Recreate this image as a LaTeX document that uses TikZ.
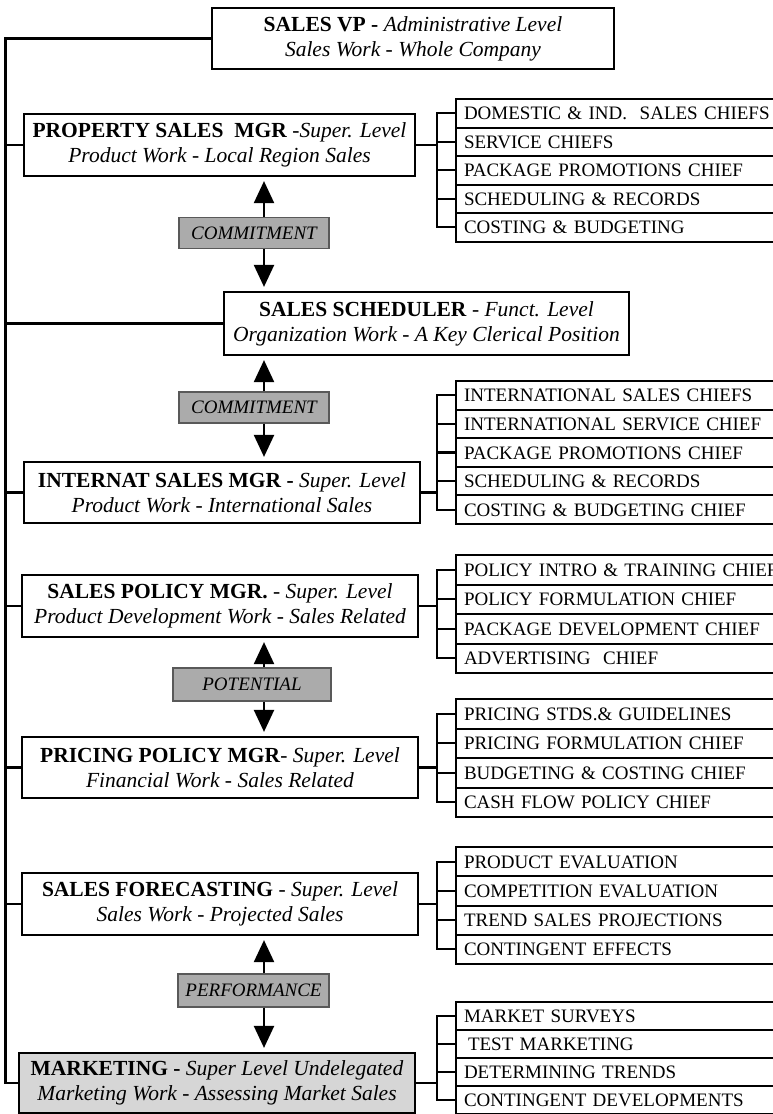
\documentclass[tikz,border=0pt]{standalone}
\usepackage{fontspec}
\setmainfont{Liberation Serif}
\usetikzlibrary{arrows.meta}
\begin{document}
\begin{tikzpicture}[x=1pt,y=-1pt,
  mgr/.style={draw=black, line width=2.2pt, fill=white, align=center, inner sep=0pt,
    font=\fontsize{21.5}{25}\selectfont},
  child/.style={draw=black, line width=2pt, anchor=north west, minimum width=338pt,
    text width=322pt, inner xsep=8pt, inner ysep=0pt, align=left,
    text height=13pt, text depth=0pt, font=\fontsize{19}{22}\selectfont},
  tag/.style={draw=black!65, line width=1.4pt, fill=black!33, inner sep=0pt,
    font=\fontsize{19}{22}\selectfont\itshape},
  wire/.style={line width=2.2pt},
  link/.style={line width=2.2pt, shorten >=4pt, -{Triangle[width=20pt,length=22pt]}},
]
\useasboundingbox (0,0) rectangle (773,1114);
\clip (0,0) rectangle (773,1114);
\fill[white] (0,0) rectangle (773,1114);

% helper coordinates: spine, bracket column, arrow column
\coordinate (sp) at (5.5,0);
\coordinate (bx) at (437,0);
\coordinate (ax) at (264,0);

% ---- managers ----
\node[mgr, minimum width=402pt, minimum height=61pt] (vp) at (413,38.5)
  {\textbf{SALES VP -} \textit{Administrative Level}\\ \textit{Sales Work - Whole Company}};
\node[mgr, minimum width=391pt, minimum height=62pt] (prop) at (219.5,145)
  {\textbf{PROPERTY SALES\ \ MGR} \textit{-Super. Level}\\ \textit{Product Work - Local Region Sales}};
\node[mgr, minimum width=405pt, minimum height=63pt] (sched) at (426.5,323.5)
  {\textbf{SALES SCHEDULER} \textit{- Funct. Level}\\ \textit{Organization Work - A Key Clerical Position}};
\node[mgr, minimum width=396pt, minimum height=61pt] (intl) at (222,492.5)
  {\textbf{INTERNAT SALES MGR -} \textit{Super. Level}\\ \textit{Product Work - International Sales}};
\node[mgr, minimum width=396pt, minimum height=62pt] (policy) at (220,606)
  {\textbf{SALES POLICY MGR.} \textit{- Super. Level}\\ \textit{Product Development Work - Sales Related}};
\node[mgr, minimum width=396pt, minimum height=61pt] (pricing) at (220,767.5)
  {\textbf{PRICING POLICY MGR}\textit{- Super. Level}\\ \textit{Financial Work - Sales Related}};
\node[mgr, minimum width=396pt, minimum height=62pt] (fore) at (220,904)
  {\textbf{SALES FORECASTING} \textit{- Super. Level}\\ \textit{Sales Work - Projected Sales}};
\node[mgr, fill=black!16, minimum width=396pt, minimum height=60pt] (mkt) at (217,1083)
  {\textbf{MARKETING -} \textit{Super Level Undelegated}\\ \textit{Marketing Work - Assessing Market Sales}};

% ---- relationship tags ----
\node[tag, minimum width=150pt, minimum height=31pt] (com1) at (254,233) {COMMITMENT};
\node[tag, minimum width=150pt, minimum height=31pt] (com2) at (254,407.5) {COMMITMENT};
\node[tag, minimum width=158pt, minimum height=33pt] (pot) at (252,684.5) {POTENTIAL};
\node[tag, minimum width=151pt, minimum height=33pt] (perf) at (253.5,990.5) {PERFORMANCE};

\draw[link] (com1.north -| ax) -- (prop.south -| ax);
\draw[link] (com1.south -| ax) -- (sched.north -| ax);
\draw[link] (com2.north -| ax) -- (sched.south -| ax);
\draw[link] (com2.south -| ax) -- (intl.north -| ax);
\draw[link] (pot.north -| ax) -- (policy.south -| ax);
\draw[link] (pot.south -| ax) -- (pricing.north -| ax);
\draw[link] (perf.north -| ax) -- (fore.south -| ax);
\draw[link] (perf.south -| ax) -- (mkt.north -| ax);

% ---- spine on the left ----
\draw[wire] (vp.west) -- (vp.west -| sp) -- (mkt.west -| sp) -- (mkt.west);
\foreach \n in {prop,sched,intl,policy,pricing,fore}
  \draw[wire] (\n.west -| sp) -- (\n.west);

% ---- chiefs ----
\node[child, minimum height=28.5pt] (g1a) at (455,98)    {DOMESTIC \& IND.\ \ SALES CHIEFS};
\node[child, minimum height=28.5pt] (g1b) at (455,126.5) {SERVICE CHIEFS};
\node[child, minimum height=28.5pt] (g1c) at (455,155)   {PACKAGE PROMOTIONS CHIEF};
\node[child, minimum height=28.5pt] (g1d) at (455,183.5) {SCHEDULING \& RECORDS};
\node[child, minimum height=28.5pt] (g1e) at (455,212)   {COSTING \& BUDGETING};

\node[child, minimum height=28.6pt] (g2a) at (455,380)   {INTERNATIONAL SALES CHIEFS};
\node[child, minimum height=28.6pt] (g2b) at (455,408.6) {INTERNATIONAL SERVICE CHIEF};
\node[child, minimum height=28.6pt] (g2c) at (455,437.2) {PACKAGE PROMOTIONS CHIEF};
\node[child, minimum height=28.6pt] (g2d) at (455,465.8) {SCHEDULING \& RECORDS};
\node[child, minimum height=28.6pt] (g2e) at (455,494.4) {COSTING \& BUDGETING CHIEF};

\node[child, minimum height=29.5pt] (g3a) at (455,554)   {POLICY INTRO \& TRAINING CHIEF};
\node[child, minimum height=29.5pt] (g3b) at (455,583.5) {POLICY FORMULATION CHIEF};
\node[child, minimum height=29.5pt] (g3c) at (455,613)   {PACKAGE DEVELOPMENT CHIEF};
\node[child, minimum height=29.5pt] (g3d) at (455,642.5) {ADVERTISING\ \ CHIEF};

\node[child, minimum height=29.5pt] (g4a) at (455,698)   {PRICING STDS.\& GUIDELINES};
\node[child, minimum height=29.5pt] (g4b) at (455,727.5) {PRICING FORMULATION CHIEF};
\node[child, minimum height=29.5pt] (g4c) at (455,757)   {BUDGETING \& COSTING CHIEF};
\node[child, minimum height=29.5pt] (g4d) at (455,786.5) {CASH FLOW POLICY CHIEF};

\node[child, minimum height=29.25pt] (g5a) at (455,846)    {PRODUCT EVALUATION};
\node[child, minimum height=29.25pt] (g5b) at (455,875.25) {COMPETITION EVALUATION};
\node[child, minimum height=29.25pt] (g5c) at (455,904.5)  {TREND SALES PROJECTIONS};
\node[child, minimum height=29.25pt] (g5d) at (455,933.75) {CONTINGENT EFFECTS};

\node[child, minimum height=28pt] (g6a) at (455,1001) {MARKET SURVEYS};
\node[child, minimum height=28pt] (g6b) at (455,1029) {\hspace*{4pt}TEST MARKETING};
\node[child, minimum height=28pt] (g6c) at (455,1057) {DETERMINING TRENDS};
\node[child, minimum height=28pt] (g6d) at (455,1085) {CONTINGENT DEVELOPMENTS};

% ---- brackets from managers to their chiefs ----
\draw[wire] (prop.east) -- (prop.east -| bx);
\draw[wire] (g1a.west) -- (g1a.west -| bx) -- (g1e.west -| bx) -- (g1e.west);
\foreach \c in {g1b,g1c,g1d} \draw[wire] (\c.west -| bx) -- (\c.west);

\draw[wire] (intl.east) -- (intl.east -| bx);
\draw[wire] (g2a.west) -- (g2a.west -| bx) -- (g2e.west -| bx) -- (g2e.west);
\foreach \c in {g2b,g2c,g2d} \draw[wire] (\c.west -| bx) -- (\c.west);

\draw[wire] (policy.east) -- (policy.east -| bx);
\draw[wire] (g3a.west) -- (g3a.west -| bx) -- (g3d.west -| bx) -- (g3d.west);
\foreach \c in {g3b,g3c} \draw[wire] (\c.west -| bx) -- (\c.west);

\draw[wire] (pricing.east) -- (pricing.east -| bx);
\draw[wire] (g4a.west) -- (g4a.west -| bx) -- (g4d.west -| bx) -- (g4d.west);
\foreach \c in {g4b,g4c} \draw[wire] (\c.west -| bx) -- (\c.west);

\draw[wire] (fore.east) -- (fore.east -| bx);
\draw[wire] (g5a.west) -- (g5a.west -| bx) -- (g5d.west -| bx) -- (g5d.west);
\foreach \c in {g5b,g5c} \draw[wire] (\c.west -| bx) -- (\c.west);

\draw[wire] (mkt.east) -- (mkt.east -| bx);
\draw[wire] (g6a.west) -- (g6a.west -| bx) -- (g6d.west -| bx) -- (g6d.west);
\foreach \c in {g6b,g6c} \draw[wire] (\c.west -| bx) -- (\c.west);
\end{tikzpicture}
\end{document}
